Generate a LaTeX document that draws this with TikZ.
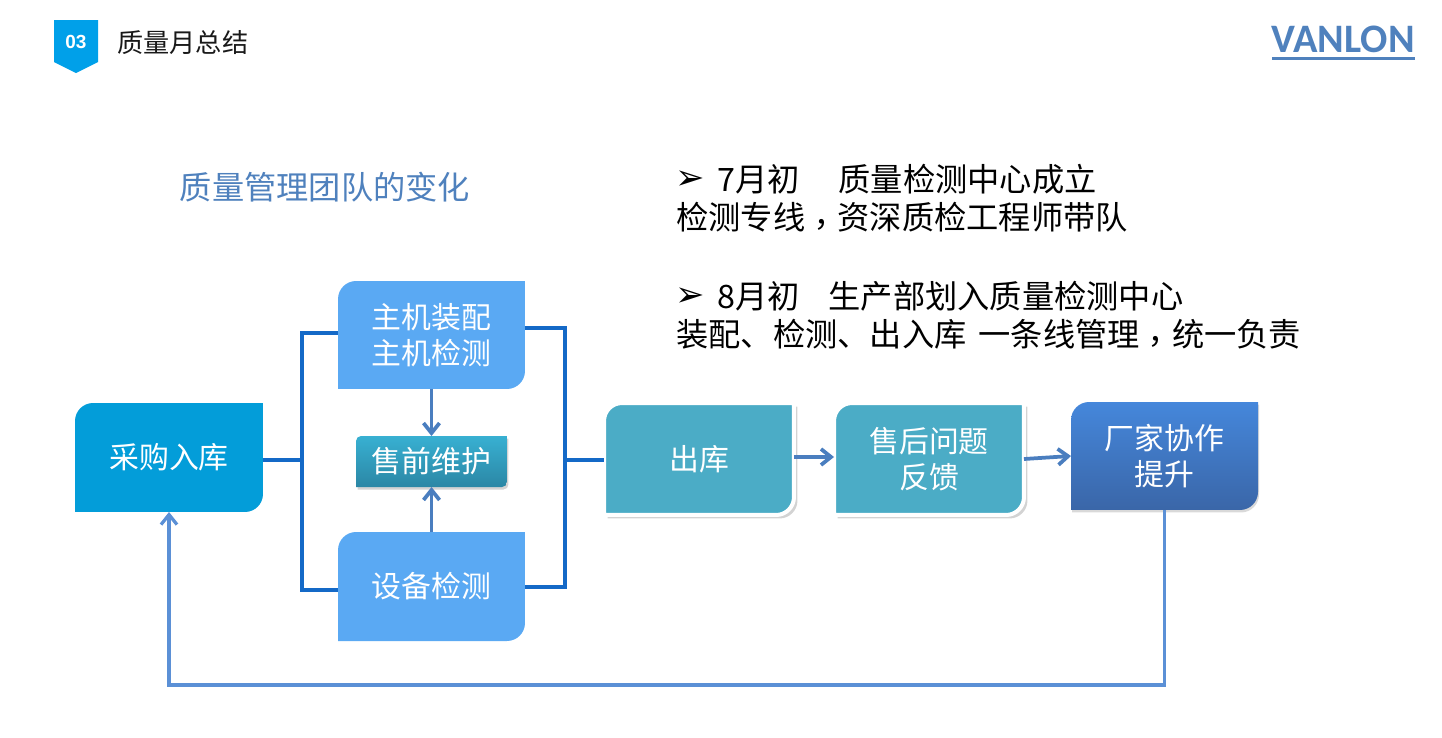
\documentclass[tikz,border=0pt]{standalone}
\usepackage{fontspec}
\setmainfont{Noto Sans CJK SC}
\newfontfamily\commafont{Noto Sans CJK TC}
\newfontfamily\logofont{Carlito}
\newfontfamily\badgefont{Liberation Sans}
\newfontfamily\symbfont{DejaVu Sans}
\usetikzlibrary{arrows.meta,backgrounds,shadows}

\definecolor{badgeblue}{HTML}{00A0E9}
\definecolor{buyblue}{HTML}{039DD9}
\definecolor{skyblue}{HTML}{5AA9F3}
\definecolor{tealblue}{HTML}{4BACC6}
\definecolor{linkblue}{HTML}{1469C7}
\definecolor{arrowblue}{HTML}{4A7EBF}
\definecolor{loopblue}{HTML}{5B90D6}
\definecolor{titleblue}{HTML}{4F81BD}
\definecolor{makertop}{HTML}{4587DB}
\definecolor{makerbot}{HTML}{3A66A8}
\definecolor{pretop}{HTML}{38B0D2}
\definecolor{prebot}{HTML}{2B87A5}

\newcommand{\lowcomma}{\raisebox{-0.22em}{\commafont ，}}

\tikzset{
  box/.style={inner sep=0pt, outer sep=0pt, align=center, text=white, font=\fontsize{17pt}{20.6pt}\selectfont},
  buyfill/.style={fill=buyblue},
  skyfill/.style={fill=skyblue},
  tealfill/.style={fill=tealblue, draw=white, line width=0.08cm, drop shadow={opacity=0.35, shadow xshift=0.07cm, shadow yshift=-0.07cm}},
  darkfill/.style={top color=makertop, bottom color=makerbot, drop shadow={opacity=0.3, shadow xshift=0.02cm, shadow yshift=-0.05cm}},
  linkline/.style={draw=linkblue, line width=0.08cm},
  flow/.style={->, draw=arrowblue, line width=0.075cm},
  backflow/.style={->, draw=loopblue, line width=0.065cm},
  note/.style={anchor=west, inner sep=0pt, font=\fontsize{18.35pt}{22pt}\selectfont}
}

\begin{document}
\begin{tikzpicture}[x=0.02cm, y=-0.02cm, >={Straight Barb[length=0.2cm,width=0.32cm]}]
  \useasboundingbox (0,0) rectangle (1442,737);
  % header
  \fill[badgeblue] (54,20) -- (98,20) -- (98,62) -- (76,73) -- (54,62) -- cycle;
  \node[text=white, font=\badgefont\bfseries\fontsize{10.8pt}{12pt}\selectfont] (badge) at (76,41.5) {03};
  \node[anchor=west, inner sep=0pt, text=black!90, font=\fontsize{14.9pt}{18pt}\selectfont] (head) at (117,43) {质量月总结};
  \node[anchor=east, inner sep=0pt, text=titleblue, font=\logofont\bfseries\fontsize{23pt}{26pt}\selectfont] (logo) at (1415,39) {VANLON};
  \draw[titleblue, line width=0.06cm] (1272,58) -- (1415,58);
  % title
  \node[text=titleblue, font=\fontsize{18.35pt}{22pt}\selectfont] (title) at (325,187) {质量管理团队的变化};
  % notes
  \node[note] (bulleta) at (675,180) {\symbfont\fontsize{20pt}{22pt}\selectfont ➢};
  \node[note] (notea) at (717,179) {7月初\hspace{0.78cm}质量检测中心成立};
  \node[note] (noteb) at (676,219) {检测专线\lowcomma 资深质检工程师带队};
  \node[note] (bulletc) at (675,297) {\symbfont\fontsize{20pt}{22pt}\selectfont ➢};
  \node[note] (notec) at (717,296) {8月初\hspace{0.58cm}生产部划入质量检测中心};
  \node[note] (noted) at (676,336) {装配、检测、出入库\hspace{0.1cm} 一条线管理\lowcomma 统一负责};
  % boxes
  \node[box, minimum width=3.76cm, minimum height=2.18cm] (buy) at (169,457.5) {采购入库};
  \node[box, minimum width=3.74cm, minimum height=2.16cm] (main) at (431.5,335) {主机装配\\主机检测};
  \node[box, minimum width=3.02cm, minimum height=1.02cm] (pre) at (431.5,461.5) {售前维护};
  \node[box, minimum width=3.74cm, minimum height=2.18cm] (device) at (431.5,586.5) {设备检测};
  \node[box, minimum width=3.8cm, minimum height=2.24cm] (out) at (699,459) {出库};
  \node[box, minimum width=3.8cm, minimum height=2.24cm] (back) at (929,459) {售后问题\\反馈};
  \node[box, minimum width=3.74cm, minimum height=2.16cm] (maker) at (1164.5,456) {厂家协作\\提升};
  % box fills, corners cut at top left and bottom right
  \begin{scope}[on background layer]
    \foreach \n/\s/\r in {buy/buyfill/0.36cm, main/skyfill/0.36cm, device/skyfill/0.36cm, out/tealfill/0.36cm, back/tealfill/0.36cm, maker/darkfill/0.36cm}
      \path[\s] (\n.north east) -- ([yshift=\r]\n.south east) arc[start angle=0, end angle=-90, radius=\r]
        -- (\n.south west) -- ([yshift=-\r]\n.north west) arc[start angle=180, end angle=90, radius=\r] -- cycle;
    \path[top color=pretop, bottom color=prebot, drop shadow={opacity=0.35, shadow xshift=0.03cm, shadow yshift=-0.05cm}]
      (pre.north east) -- ([yshift=0.1cm]pre.south east) arc[start angle=0, end angle=-90, radius=0.1cm]
        -- (pre.south west) -- ([yshift=-0.1cm]pre.north west) arc[start angle=180, end angle=90, radius=0.1cm] -- cycle;
  \end{scope}
  % brackets
  \coordinate (jleft) at (302,460);
  \coordinate (jright) at (565,460);
  \draw[linkline] (buy.east |- jleft) -- (jleft);
  \draw[linkline] ([yshift=0.04cm]main.west) -| (jleft) |- ([yshift=-0.07cm]device.west);
  \draw[linkline] ([yshift=0.14cm]main.east) -| (jright) |- (device.east);
  \draw[linkline] (jright) -- (jright -| out.west);
  % arrows
  \draw[flow] (main) -- (pre);
  \draw[flow] (device) -- (pre);
  \draw[flow] ([yshift=0.04cm]out.east) -- ([yshift=0.04cm]back.west);
  \draw[flow] (back.east) -- (maker.west);
  \draw[backflow] (maker.south) -- ++(0,175) -| (buy.south);
\end{tikzpicture}
\end{document}
